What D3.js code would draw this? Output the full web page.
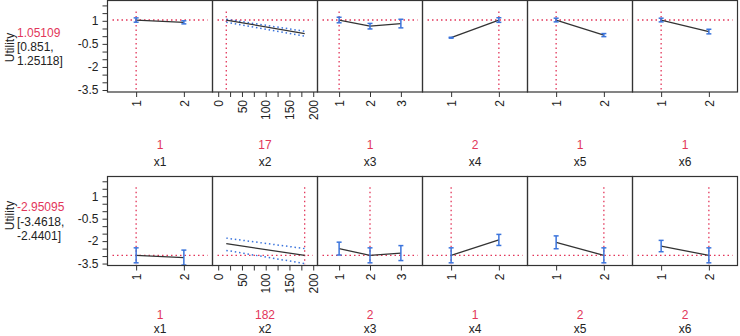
<!DOCTYPE html>
<html>
<head>
<meta charset="utf-8">
<script src="https://d3js.org/d3.v7.min.js"></script>
<style>
    body { margin: 0; background: #fff; }
    svg { display: block; font-family: "Liberation Sans", Arial, sans-serif; }
    .tick text { font-size: 12px; fill: #222; }
</style>
</head>
<body>
<svg id="chart" width="740" height="336"></svg>
<script>
    // attributes and their levels
    const variables = ["x1", "x2", "x3", "x4", "x5", "x6"];
    const levels = [[1, 2], [17, 182], [1, 2, 3], [1, 2], [1, 2], [1, 2]];

    // two profiles: total utility with interval, chosen level per attribute
    const totals = [1.05109, -2.95095];
    const ciLow = [0.851, -3.4618];
    const ciHigh = [1.25118, -2.4401];
    const chosen = [[1, 17, 1, 2, 1, 1], [1, 182, 2, 1, 2, 2]];

    // utility at each level (row 1, row 2)
    const utilTop = [[1.05, 0.9], [1.05, 0.17], [1.05, 0.65, 0.82], [-0.1, 1.05], [1.05, 0.07], [1.05, 0.3]];
    const errTop = [[0.14, 0.1], [0, 0], [0.18, 0.18, 0.28], [0.03, 0.15], [0.12, 0.1], [0.12, 0.15]];
    const utilBottom = [[-2.95, -3.1], [-2.17, -2.95], [-2.5, -2.95, -2.8], [-2.95, -1.92], [-2.08, -2.95], [-2.33, -2.95]];
    const errBottom = [[0.5, 0.5], [0, 0], [0.43, 0.5, 0.5], [0.5, 0.37], [0.43, 0.5], [0.38, 0.5]];

    // confidence band for the continuous attribute x2
    const bandUpper = [[1.1, 0.32], [-1.8, -2.5]];
    const bandLower = [[0.9, 0.0], [-2.62, -3.5]];

    const yTicks = d3.range(-3.5, 2.01, 0.5);
    const yLabels = [1, -0.5, -2, -3.5];
    const x2Ticks = d3.range(0, 201, 25);

    const red = "#e2365a";
    const blue = "#3b74dc";

    const svg = d3.select("#chart");
    const left0 = 107.5;
    const panelW = 105;
    const rows = [
        { top: 0.5, bottom: 92, util: utilTop, err: errTop, lab: [36.5, 51, 65], utilY: 47.5, valY: 149, nameY: 166 },
        { top: 176.5, bottom: 265.5, util: utilBottom, err: errBottom, lab: [211, 225.5, 240], utilY: 215.5, valY: 319, nameY: 333 }
    ];

    rows.forEach((row, r) => {
        const y = d3.scaleLinear().domain([-3.63, 2.32]).range([row.bottom, row.top]);

        // left annotations
        svg.append("text")
            .attr("transform", `translate(14,${row.utilY}) rotate(-90)`)
            .attr("text-anchor", "middle")
            .attr("font-size", 12).attr("fill", "#222")
            .text("Utility");
        svg.append("text").attr("x", 17).attr("y", row.lab[0])
            .attr("font-size", 12).attr("fill", red).text(totals[r]);
        svg.append("text").attr("x", 17).attr("y", row.lab[1])
            .attr("font-size", 12).attr("fill", "#222").text(`[${ciLow[r]},`);
        svg.append("text").attr("x", 17).attr("y", row.lab[2])
            .attr("font-size", 12).attr("fill", "#222").text(`${ciHigh[r]}]`);

        variables.forEach((v, i) => {
            const x0 = left0 + i * panelW;
            const g = svg.append("g").attr("transform", `translate(${x0},0)`);
            const lv = levels[i];
            const continuous = i === 1;
            const x = d3.scaleLinear().range([0, panelW]);
            if (continuous) x.domain([-12, 209]);
            else if (lv.length === 3) x.domain([0.3, 3.7]);
            else x.domain([0.4, 2.6]);

            // x axis
            const xAxis = d3.axisBottom(x).tickSize(5);
            if (continuous) xAxis.tickValues(x2Ticks).tickFormat(d => d % 50 === 0 ? d : "");
            else xAxis.tickValues(lv).tickFormat(d3.format("d"));
            const ax = g.append("g").attr("transform", `translate(0,${row.bottom})`).call(xAxis);
            ax.select(".domain").remove();
            ax.selectAll("line").attr("stroke", "#333");
            ax.selectAll("text")
                .attr("transform", "rotate(-90)")
                .attr("text-anchor", "end")
                .attr("x", -8).attr("y", 0).attr("dy", "0.35em");

            if (i === 0) {
                const yAxis = d3.axisLeft(y).tickValues(yTicks).tickSize(5).tickPadding(4)
                    .tickFormat(d => yLabels.some(l => Math.abs(l - d) < 1e-9) ? String(d) : "");
                const ay = g.append("g").call(yAxis);
                ay.select(".domain").remove();
                ay.selectAll("line").attr("stroke", "#333");
            }

            // reference lines
            g.append("line")
                .attr("x1", 5).attr("x2", panelW - 5)
                .attr("y1", y(totals[r])).attr("y2", y(totals[r]))
                .attr("stroke", red).attr("stroke-width", 1.3)
                .attr("stroke-dasharray", "1.5,3");
            g.append("line")
                .attr("x1", x(chosen[r][i])).attr("x2", x(chosen[r][i]))
                .attr("y1", y(1.6)).attr("y2", y(-3.55))
                .attr("stroke", red).attr("stroke-width", 1.3)
                .attr("stroke-dasharray", "1.5,3");

            const pts = lv.map((l, k) => ({ l, u: row.util[i][k], e: row.err[i][k] }));
            const line = d3.line().x(d => x(d.l)).y(d => y(d.u));

            if (continuous) {
                [bandUpper[r], bandLower[r]].forEach(b => {
                    g.append("path")
                        .datum(lv.map((l, k) => ({ l, u: b[k] })))
                        .attr("d", line)
                        .attr("fill", "none").attr("stroke", blue)
                        .attr("stroke-width", 1.5).attr("stroke-dasharray", "1.5,2.8");
                });
            }

            g.append("path").datum(pts).attr("d", line)
                .attr("fill", "none").attr("stroke", "#333").attr("stroke-width", 1.3);

            if (!continuous) {
                const eb = g.selectAll(".eb").data(pts).enter().append("g")
                    .attr("stroke", blue).attr("stroke-width", 1.5);
                eb.append("line")
                    .attr("x1", d => x(d.l)).attr("x2", d => x(d.l))
                    .attr("y1", d => y(d.u + d.e)).attr("y2", d => y(d.u - d.e));
                [1, -1].forEach(s => {
                    eb.append("line")
                        .attr("x1", d => x(d.l) - 2.5).attr("x2", d => x(d.l) + 2.5)
                        .attr("y1", d => y(d.u + s * d.e)).attr("y2", d => y(d.u + s * d.e));
                });
            }

            // frame
            g.append("rect").attr("x", 0).attr("y", row.top)
                .attr("width", panelW).attr("height", row.bottom - row.top)
                .attr("fill", "none").attr("stroke", "#333").attr("stroke-width", 1.2);

            // chosen level and attribute name
            g.append("text").attr("x", panelW / 2).attr("y", row.valY)
                .attr("text-anchor", "middle").attr("font-size", 12).attr("fill", red)
                .text(chosen[r][i]);
            g.append("text").attr("x", panelW / 2).attr("y", row.nameY)
                .attr("text-anchor", "middle").attr("font-size", 12).attr("fill", "#222")
                .text(v);
        });
    });
</script>
</body>
</html>
